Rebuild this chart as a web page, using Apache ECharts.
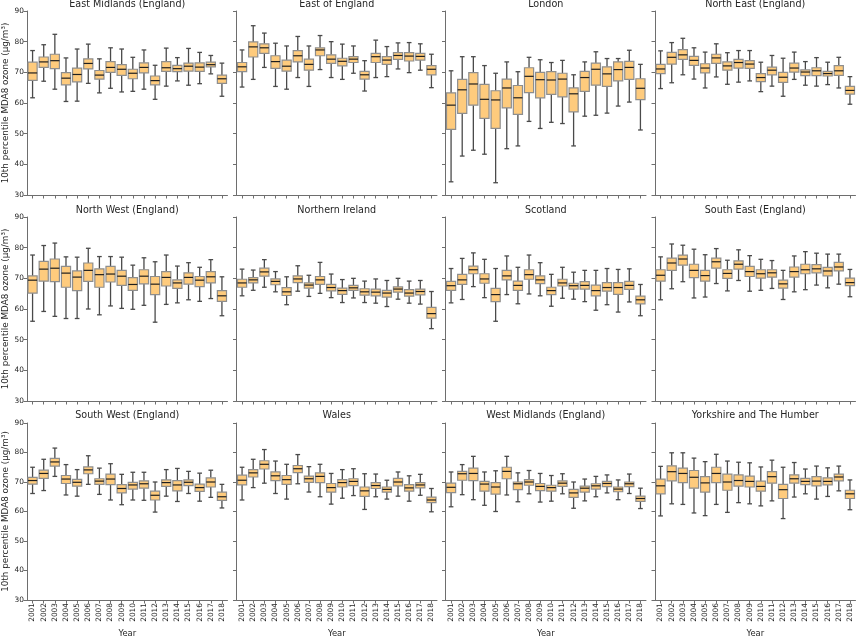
<!DOCTYPE html>
<html>
<head>
<meta charset="utf-8">
<script src="https://cdn.jsdelivr.net/npm/echarts@6/dist/echarts.min.js"></script>
<style>
html,body{margin:0;padding:0;background:#fff;}
#chart{width:857px;height:639px;}
</style>
</head>
<body>
<div id="chart"></div>
<script>
var years = ['2001','2002','2003','2004','2005','2006','2007','2008','2009','2010','2011','2012','2013','2014','2015','2016','2017','2018'];
var regions = ['East Midlands (England)','East of England','London','North East (England)',
	'North West (England)','Northern Ireland','Scotland','South East (England)',
	'South West (England)','Wales','West Midlands (England)','Yorkshire and The Humber'];

// one row per year: [low whisker, Q1, median, Q3, high whisker]
var eastMidlands = [
	[61.7,67.4,69.8,73.3,77.1],[67.1,71.6,73.4,75.0,79.0],[64.5,71.2,73.8,75.9,82.4],[60.5,65.9,68.1,69.9,74.7],
	[60.6,66.9,69.3,71.4,77.6],[66.4,71.1,72.9,74.4,79.2],[63.3,67.8,69.1,70.6,74.4],[64.8,70.0,71.6,73.5,78.0],
	[63.6,69.0,71.0,72.5,77.6],[63.8,67.9,69.7,71.0,74.9],[64.5,69.8,71.6,73.1,77.3],[61.2,65.9,67.3,68.8,72.3],
	[65.5,70.3,71.5,73.5,77.9],[67.2,70.2,71.2,72.3,74.8],[65.8,70.4,72.0,73.0,77.8],[66.3,70.3,71.7,73.1,76.5],
	[69.5,71.8,72.5,73.3,75.5],[62.2,66.4,67.9,69.1,73.0]
];
var eastOfEngland = [
	[65.2,70.2,71.8,73.2,77.3],[67.7,75.0,78.3,79.9,85.2],[71.6,76.2,78.0,79.3,82.8],[65.4,71.3,73.5,75.4,79.5],
	[64.5,70.4,72.0,74.0,78.6],[68.3,73.4,75.4,77.1,81.7],[65.4,70.7,72.6,74.3,78.6],[70.9,75.4,77.3,78.0,82.0],
	[68.3,72.9,74.3,75.7,80.0],[67.7,72.1,73.6,74.6,79.2],[69.7,73.2,74.3,75.1,78.6],[63.9,67.8,69.2,70.3,73.8],
	[68.3,73.2,75.1,76.2,80.5],[68.6,72.6,74.0,75.1,78.4],[71.1,74.2,75.5,76.4,79.6],[69.9,73.7,75.3,76.4,79.7],
	[70.7,74.0,75.2,76.2,79.3],[65.0,69.2,71.0,72.2,75.9]
];
var london = [
	[34.3,51.4,59.3,63.3,70.5],[42.7,56.6,64.3,67.7,75.1],[44.6,59.3,66.2,69.9,75.1],[43.3,55.0,61.2,66.1,72.2],
	[34.0,51.7,61.0,64.0,69.7],[45.1,58.4,64.9,67.8,73.4],[46.0,56.3,61.7,65.7,70.2],[54.0,63.4,68.7,71.5,74.9],
	[51.7,61.7,67.6,70.0,74.1],[53.7,62.8,67.5,70.2,73.2],[53.3,62.0,67.8,69.7,73.9],[46.0,57.1,63.0,64.9,69.2],
	[55.7,63.8,68.3,70.3,73.4],[56.0,65.8,71.0,73.0,76.7],[56.7,65.4,69.5,71.8,74.5],[59.0,67.2,70.9,73.4,74.5],
	[60.3,67.7,71.6,73.6,77.2],[51.2,61.1,64.8,67.9,72.6]
];
var northEast = [
	[64.7,69.6,71.1,72.6,77.0],[66.6,72.7,74.9,76.5,79.7],[69.2,74.2,75.7,77.4,81.1],[67.8,72.3,73.9,75.2,78.0],
	[64.9,69.8,71.4,72.8,76.6],[68.5,72.9,74.7,75.9,79.3],[66.1,70.7,72.1,73.4,76.4],[66.8,71.4,73.2,74.2,77.1],
	[67.2,71.3,72.7,73.8,77.1],[63.7,67.0,68.3,69.6,73.3],[65.5,69.2,70.7,71.7,75.5],[62.2,66.7,68.4,70.0,74.6],
	[67.7,70.1,71.4,73.0,76.6],[65.8,68.9,70.1,70.8,73.5],[65.5,68.9,70.5,71.5,74.8],[66.0,68.8,69.6,70.3,73.3],
	[64.9,69.0,70.5,72.2,74.9],[59.6,62.9,64.1,65.4,68.6]
];
var northWest = [
	[56.0,65.2,69.4,70.8,77.6],[59.2,69.1,73.0,75.5,80.7],[57.6,68.9,73.3,76.3,81.5],[56.9,67.1,71.7,73.9,77.0],
	[56.9,66.0,70.4,72.4,76.9],[60.0,69.0,72.6,75.0,79.8],[58.1,67.1,71.2,73.1,77.1],[61.0,68.8,71.4,73.9,77.1],
	[60.2,67.7,70.7,72.6,76.9],[59.9,66.1,68.0,70.2,74.3],[61.2,68.2,70.7,72.8,76.7],[55.7,64.7,68.1,70.6,75.4],
	[61.5,67.5,70.3,72.2,77.6],[62.0,66.7,68.5,69.5,74.0],[63.0,68.1,70.3,71.8,75.1],[62.5,67.3,69.4,70.6,73.6],
	[63.4,68.5,70.5,72.2,76.1],[57.8,62.5,64.3,66.0,70.5]
];
var northernIreland = [
	[64.3,67.1,68.5,69.7,73.0],[66.1,68.5,69.5,70.2,72.7],[67.1,70.7,72.1,73.3,76.1],[65.6,67.9,69.0,69.8,72.2],
	[61.4,64.4,65.6,67.0,70.5],[65.8,68.6,69.8,70.8,74.1],[64.1,66.8,67.8,68.5,71.0],[65.1,68.0,69.5,70.6,75.2],
	[63.7,65.9,67.0,68.0,71.4],[62.1,64.8,66.0,66.8,69.6],[63.6,66.1,66.9,67.7,70.0],[62.1,64.5,65.6,66.6,69.1],
	[61.9,64.3,65.5,66.5,69.8],[60.8,63.9,65.2,66.1,69.3],[63.2,65.5,66.5,67.2,70.0],[61.9,64.2,65.2,66.3,69.1],
	[61.6,64.6,65.7,66.5,69.3],[53.6,57.0,58.5,60.5,65.7]
];
var scotland = [
	[62.0,66.1,67.6,69.0,73.2],[63.1,68.0,69.5,71.3,76.5],[67.3,71.5,72.8,74.0,78.3],[63.7,68.4,69.8,71.5,76.2],
	[56.0,62.4,64.7,66.7,73.2],[64.7,69.5,70.8,72.6,77.3],[61.7,66.1,67.7,69.1,73.6],[64.9,69.7,71.2,72.8,77.6],
	[64.3,68.3,69.5,70.8,75.1],[60.9,64.7,66.0,67.1,71.3],[63.5,67.5,68.5,69.7,73.6],[63.2,66.5,67.6,68.4,72.0],
	[62.4,66.5,67.7,68.9,72.6],[59.6,64.3,66.0,67.8,72.6],[61.4,65.8,67.0,68.6,73.2],[59.0,64.8,67.0,68.6,72.9],
	[62.3,66.4,67.7,69.0,73.1],[57.8,61.7,63.0,64.2,68.0]
];
var southEast = [
	[63.0,69.1,71.0,72.8,77.0],[66.6,72.6,75.0,76.6,81.2],[68.9,74.3,76.3,77.6,80.8],[63.6,70.2,72.6,74.6,79.5],
	[63.9,69.1,70.9,72.6,77.7],[68.3,73.3,75.4,76.6,79.7],[65.9,70.0,71.6,72.8,75.9],[69.3,73.0,74.6,75.7,79.3],
	[65.8,70.6,72.2,73.9,77.4],[66.1,70.1,71.5,72.8,76.2],[66.7,70.4,71.8,72.8,75.8],[63.1,66.8,68.2,69.4,72.6],
	[65.6,70.4,72.2,73.7,77.3],[66.3,71.5,72.8,74.6,78.7],[67.8,71.8,73.1,74.5,78.2],[66.9,70.8,72.4,73.6,77.9],
	[68.1,72.4,73.7,75.2,77.9],[64.0,67.6,68.6,70.1,72.9]
];
var southWest = [
	[66.1,69.3,70.5,71.6,75.0],[67.1,71.2,72.9,74.0,77.7],[71.9,75.4,76.8,78.0,81.5],[65.6,69.5,71.0,72.2,75.9],
	[65.2,68.6,69.9,70.9,74.2],[69.2,72.8,74.1,75.1,78.9],[65.8,69.2,70.3,71.1,74.7],[63.9,69.1,71.0,72.7,76.2],
	[62.3,66.3,67.8,69.1,72.6],[63.9,67.6,69.0,69.9,73.3],[63.8,67.9,69.4,70.4,73.3],[59.8,63.9,65.5,66.9,70.0],
	[65.2,68.5,69.8,70.7,74.2],[63.4,67.0,69.0,70.5,74.6],[66.1,68.8,69.9,70.7,73.6],[63.5,66.8,68.1,69.3,73.0],
	[64.8,68.3,70.0,71.4,74.0],[61.2,63.8,65.0,66.6,69.2]
];
var wales = [
	[63.9,69.0,70.6,72.3,75.0],[68.1,71.7,73.1,74.2,77.7],[69.6,74.4,76.0,77.2,81.0],[66.1,70.5,72.1,73.4,77.1],
	[64.2,69.2,70.8,72.2,76.0],[69.4,73.2,74.5,75.6,79.3],[66.6,69.9,71.1,72.0,75.2],[65.0,69.8,71.9,73.1,76.0],
	[62.5,66.6,68.1,69.5,72.9],[64.5,68.3,69.8,70.8,74.2],[65.4,68.8,70.2,71.1,74.5],[60.7,65.1,67.0,68.3,72.8],
	[65.0,67.8,68.8,69.8,72.7],[64.2,66.6,67.5,68.3,70.6],[65.2,68.7,70.0,71.2,73.4],[63.5,66.9,68.0,69.1,72.1],
	[65.5,68.0,69.0,69.8,72.6],[59.9,63.0,63.9,64.9,67.8]
];
var westMidlands = [
	[61.6,66.4,68.2,69.6,73.4],[65.7,70.6,72.8,73.6,75.9],[64.0,70.5,72.9,74.7,78.7],[62.1,66.9,69.3,70.2,73.4],
	[60.0,65.9,68.3,69.8,73.8],[65.6,71.1,73.6,75.0,78.7],[63.3,67.4,69.4,70.0,73.1],[66.0,68.9,70.0,70.8,73.9],
	[63.2,67.1,68.5,69.5,72.9],[63.5,66.9,68.1,68.9,72.2],[66.0,68.5,69.6,70.4,72.8],[61.1,64.8,66.3,67.5,70.0],
	[63.6,66.6,67.9,68.6,71.0],[65.0,67.6,68.7,69.4,71.9],[66.3,68.4,69.5,70.2,72.4],[64.0,66.7,67.6,68.3,70.7],
	[66.1,68.4,69.4,70.0,72.7],[61.0,63.4,64.4,65.2,67.9]
];
var yorkshire = [
	[58.5,66.0,68.7,71.0,75.3],[62.6,70.4,73.5,75.5,79.9],[62.4,69.8,72.9,74.7,79.9],[59.5,67.9,71.6,73.9,78.1],
	[58.6,66.6,69.7,71.8,76.9],[62.4,69.8,72.9,75.0,79.4],[59.7,67.2,70.0,72.7,77.1],[63.0,68.6,70.5,72.4,76.7],
	[62.6,68.3,70.2,72.0,76.5],[61.9,66.9,68.5,70.3,75.1],[63.6,69.6,71.8,73.5,77.4],[57.6,64.4,67.4,69.2,75.0],
	[64.9,69.6,71.1,72.4,76.6],[66.0,69.1,70.2,71.2,74.4],[64.2,68.7,70.3,71.8,75.4],[65.1,69.0,70.2,71.4,74.8],
	[67.0,70.4,71.7,72.7,75.4],[60.6,64.4,66.0,67.2,70.7]
];
var regionStats = [eastMidlands, eastOfEngland, london, northEast, northWest, northernIreland,
	scotland, southEast, southWest, wales, westMidlands, yorkshire];

var yMin = 30, yMax = 90, yStep = 10;
var yName = '10th percentile MDA8 ozone (\u03bcg/m\u00b3)';

var gridLefts = [27, 236.5, 445.5, 655];
var gridTops = [11, 217, 423];
var gridW = 200.5, gridH = 184;
var titleTops = [-1, 205, 410];

function renderBox(params, api){
	var x = api.value(0);
	var lo = api.coord([x, api.value(1)]);
	var q1 = api.coord([x, api.value(2)]);
	var md = api.coord([x, api.value(3)]);
	var q3 = api.coord([x, api.value(4)]);
	var hi = api.coord([x, api.value(5)]);
	var band = api.size([1, 0])[0];
	var bw = band * 0.82, cw = band * 0.42;
	var cx = lo[0];
	var ws = {stroke:'#4a4a4a', lineWidth:1.3};
	return {
		type:'group',
		children:[
			{type:'line', shape:{x1:cx, y1:q3[1], x2:cx, y2:hi[1]}, style:ws},
			{type:'line', shape:{x1:cx, y1:q1[1], x2:cx, y2:lo[1]}, style:ws},
			{type:'line', shape:{x1:cx-cw/2, y1:hi[1], x2:cx+cw/2, y2:hi[1]}, style:ws},
			{type:'line', shape:{x1:cx-cw/2, y1:lo[1], x2:cx+cw/2, y2:lo[1]}, style:ws},
			{type:'rect', shape:{x:cx-bw/2, y:q3[1], width:bw, height:q1[1]-q3[1]},
				style:{fill:'#fecb7d', stroke:'#8e8e8e', lineWidth:1.2}},
			{type:'line', shape:{x1:cx-bw/2, y1:md[1], x2:cx+bw/2, y2:md[1]},
				style:{stroke:'#1e1e1e', lineWidth:1.2}}
		]
	};
}

var titles = [], grids = [], xAxes = [], yAxes = [], series = [];
for(var i=0; i<regions.length; i++){
	var row = Math.floor(i/4), col = i%4;
	var isBottom = (row == 2), isLeft = (col == 0);
	titles.push({
		text: regions[i],
		left: gridLefts[col] + gridW/2,
		top: titleTops[row],
		textAlign: 'center',
		padding: 0,
		textStyle: {fontSize:9.6, fontWeight:'normal', color:'#262626', fontFamily:'DejaVu Sans'}
	});
	grids.push({left:gridLefts[col], top:gridTops[row], width:gridW, height:gridH});
	xAxes.push({
		type:'category',
		gridIndex:i,
		data:years,
		boundaryGap:true,
		name: isBottom ? 'Year' : '',
		nameLocation:'middle',
		nameGap:30,
		nameTextStyle:{fontSize:8.4, color:'#262626', fontFamily:'DejaVu Sans'},
		axisLine:{lineStyle:{color:'#6e6e6e', width:1}},
		axisTick:{show:true, alignWithLabel:true, length:3.5, lineStyle:{color:'#6e6e6e'}},
		axisLabel:{show:isBottom, rotate:90, fontSize:7.4, color:'#262626', margin:3, interval:0, fontFamily:'DejaVu Sans'},
		splitLine:{show:false}
	});
	yAxes.push({
		type:'value',
		gridIndex:i,
		min:yMin, max:yMax, interval:yStep,
		name: isLeft ? yName : '',
		nameLocation:'middle',
		nameRotate:90,
		nameGap:17,
		nameTextStyle:{fontSize:8.8, color:'#262626', fontFamily:'DejaVu Sans'},
		axisLine:{show:true, lineStyle:{color:'#6e6e6e', width:1}},
		axisTick:{show:true, length:3.5, lineStyle:{color:'#6e6e6e'}},
		axisLabel:{show:isLeft, fontSize:7.4, color:'#262626', margin:3, fontFamily:'DejaVu Sans'},
		splitLine:{show:false}
	});
	var pts = [];
	for(var j=0; j<regionStats[i].length; j++){
		pts.push([j].concat(regionStats[i][j]));
	}
	series.push({
		type:'custom',
		name:regions[i],
		xAxisIndex:i,
		yAxisIndex:i,
		renderItem:renderBox,
		encode:{x:0, y:[1,2,3,4,5]},
		silent:true,
		data:pts
	});
}

var chart = echarts.init(document.getElementById('chart'));
chart.setOption({
	animation:false,
	backgroundColor:'#ffffff',
	title:titles,
	grid:grids,
	xAxis:xAxes,
	yAxis:yAxes,
	series:series
});
</script>
</body>
</html>
